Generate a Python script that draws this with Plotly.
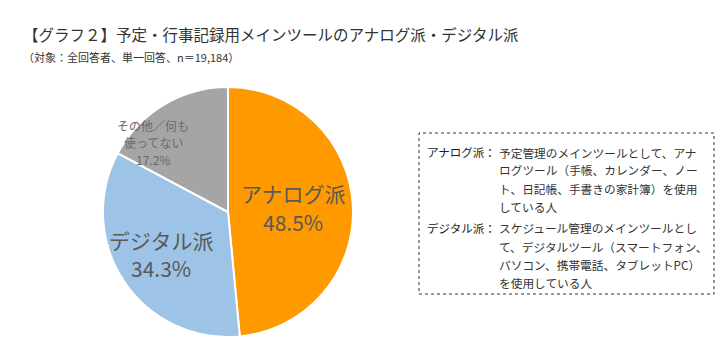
import plotly.graph_objects as go

categories = ["アナログ派", "デジタル派", "その他／何も使ってない"]
values = [48.5, 34.3, 17.2]
colors = ["#FF9900", "#9DC3E6", "#A5A5A5"]
slice_labels = ["アナログ派<br>48.5%", "デジタル派<br>34.3%", "その他／何も<br>使ってない<br>17.2%"]

title = "【グラフ２】予定・行事記録用メインツールのアナログ派・デジタル派"
subtitle = "（対象：全回答者、単一回答、n＝19,184）"

note_heads = ["アナログ派", "デジタル派"]
note_lines = [
    ["予定管理のメインツールとして、アナ", "ログツール（手帳、カレンダー、ノー", "ト、日記帳、手書きの家計簿）を使用", "している人"],
    ["スケジュール管理のメインツールとし", "て、デジタルツール（スマートフォン、", "パソコン、携帯電話、タブレットPC）", "を使用している人"],
]

W, H = 728, 359
FONT = "Noto Sans CJK JP"

def px(x):
    return x / W

def py(y):
    return 1 - y / H

fig = go.Figure(go.Pie(
    labels=categories, values=values, sort=False, direction="clockwise", rotation=0,
    marker=dict(colors=colors, line=dict(color="white", width=2)),
    textinfo="none", hoverinfo="label+percent", showlegend=False,
    domain=dict(x=[px(103), px(353)], y=[py(337), py(87)]),
))

ann = []
ann.append(dict(x=px(21), y=py(34), text=title, showarrow=False, xanchor="left", yanchor="middle",
                font=dict(size=15.5, color="#333333", family=FONT)))
ann.append(dict(x=px(21), y=py(57), text=subtitle, showarrow=False, xanchor="left", yanchor="middle",
                font=dict(size=11, color="#333333", family=FONT)))

# slice labels, one annotation per line
label_pos = [(293, 193, 29, 21, "#595959"), (161, 240, 28, 21, "#595959"), (153, 125, 17.5, 12, "#6A6A6A")]
for t, (x, y0, dy, s, c) in zip(slice_labels, label_pos):
    for i, part in enumerate(t.split("<br>")):
        ann.append(dict(x=px(x), y=py(y0 + dy * i), text=part, showarrow=False, xanchor="center",
                        yanchor="middle", font=dict(size=s, color=c, family=FONT)))

# note box text
block_y = [152, 228]
for head, lines, y0 in zip(note_heads, note_lines, block_y):
    ann.append(dict(x=px(498), y=py(y0), text=head + "：", showarrow=False, xanchor="right",
                    yanchor="middle", font=dict(size=11.5, color="#1A1A1A", family=FONT)))
    for i, ln in enumerate(lines):
        ann.append(dict(x=px(497), y=py(y0 + 18 * i), text=ln, showarrow=False, xanchor="left",
                        yanchor="middle", font=dict(size=11.7, color="#333333", family=FONT)))

fig.update_layout(
    width=W, height=H, margin=dict(l=0, r=0, t=0, b=0),
    paper_bgcolor="white", plot_bgcolor="white",
    annotations=ann,
    shapes=[dict(type="rect", xref="paper", yref="paper", x0=px(419), x1=px(714), y0=py(294), y1=py(133),
                 line=dict(color="#333333", width=1, dash="dot"))],
)

fig.write_html("out.html", config={"displayModeBar": False},
               post_script="document.body.style.margin='0';")
